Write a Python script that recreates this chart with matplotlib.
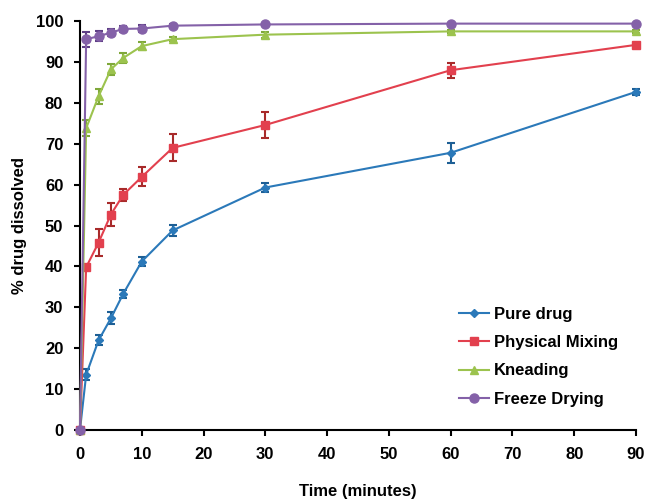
import numpy as np
import matplotlib
matplotlib.use("Agg")
import matplotlib.pyplot as plt

plt.rcParams['font.family'] = ['Liberation Sans', 'DejaVu Sans']
plt.rcParams['font.weight'] = 'bold'

time_min = [0, 1, 3, 5, 7, 10, 15, 30, 60, 90]

pure_drug = [0, 13.5, 21.9, 27.3, 33.3, 41.2, 48.8, 59.3, 67.8, 82.7]
pure_drug_err = [0, 1.3, 1.2, 1.5, 1.0, 1.2, 1.3, 1.2, 2.5, 0.8]

physical_mixing = [0, 39.8, 45.8, 52.7, 57.5, 61.9, 69.0, 74.6, 88.0, 94.2]
physical_mixing_err = [0, 0.6, 3.3, 2.7, 1.5, 2.3, 3.3, 3.2, 1.8, 0.5]

kneading = [0, 73.8, 81.6, 88.2, 91.0, 93.9, 95.6, 96.7, 97.5, 97.5]
kneading_err = [0, 2.0, 1.8, 1.3, 1.3, 1.0, 0.5, 0.7, 0.4, 0.4]

freeze_drying = [0, 95.6, 96.3, 97.2, 98.1, 98.2, 98.9, 99.2, 99.4, 99.4]
freeze_drying_err = [0, 1.8, 1.2, 0.8, 0.8, 0.9, 0.3, 0.3, 0.2, 0.2]

series = [
    ("Pure drug", pure_drug, pure_drug_err, "#2b79b9", "#1d5f95", "D", 4),
    ("Physical Mixing", physical_mixing, physical_mixing_err, "#e2404e", "#a82a2a", "s", 6),
    ("Kneading", kneading, kneading_err, "#9cc34e", "#7fa83a", "^", 6),
    ("Freeze Drying", freeze_drying, freeze_drying_err, "#8461a8", "#5e3f86", "o", 6.5),
]

fig = plt.figure(figsize=(6.45, 5.04), dpi=100)
ax = fig.add_axes([0.124, 0.147, 0.862, 0.811])

for label, vals, err, col, ecol, mk, ms in series:
    ax.errorbar(time_min, vals, yerr=err, color=col, ecolor=ecol, marker=mk,
                markersize=ms, linewidth=1.5, elinewidth=1.5, capsize=3,
                capthick=1.5, label=label, clip_on=False, zorder=3)

ax.set_xlim(0, 90)
ax.set_ylim(0, 100)
ax.set_xticks(np.arange(0, 91, 10))
ax.set_yticks(np.arange(0, 101, 10))
ax.spines['top'].set_visible(False)
ax.spines['right'].set_visible(False)
ax.spines['left'].set_linewidth(1.5)
ax.spines['bottom'].set_linewidth(1.5)
ax.tick_params(direction='out', length=4, width=1.5, labelsize=12, pad=8)
ax.set_xlabel("Time (minutes)", fontsize=12, fontweight='bold', labelpad=16)
ax.set_ylabel("% drug dissolved", fontsize=12, fontweight='bold', labelpad=6)

# legend shows only line + marker, no error bars
handles, labels = ax.get_legend_handles_labels()
handles = [h[0] for h in handles]
leg = ax.legend(handles, labels, loc='lower left', bbox_to_anchor=(0.655, 0.02),
                frameon=False, fontsize=12, labelspacing=0.8, handlelength=1.8,
                handletextpad=0.3)

fig.savefig("out.png", dpi=100)
